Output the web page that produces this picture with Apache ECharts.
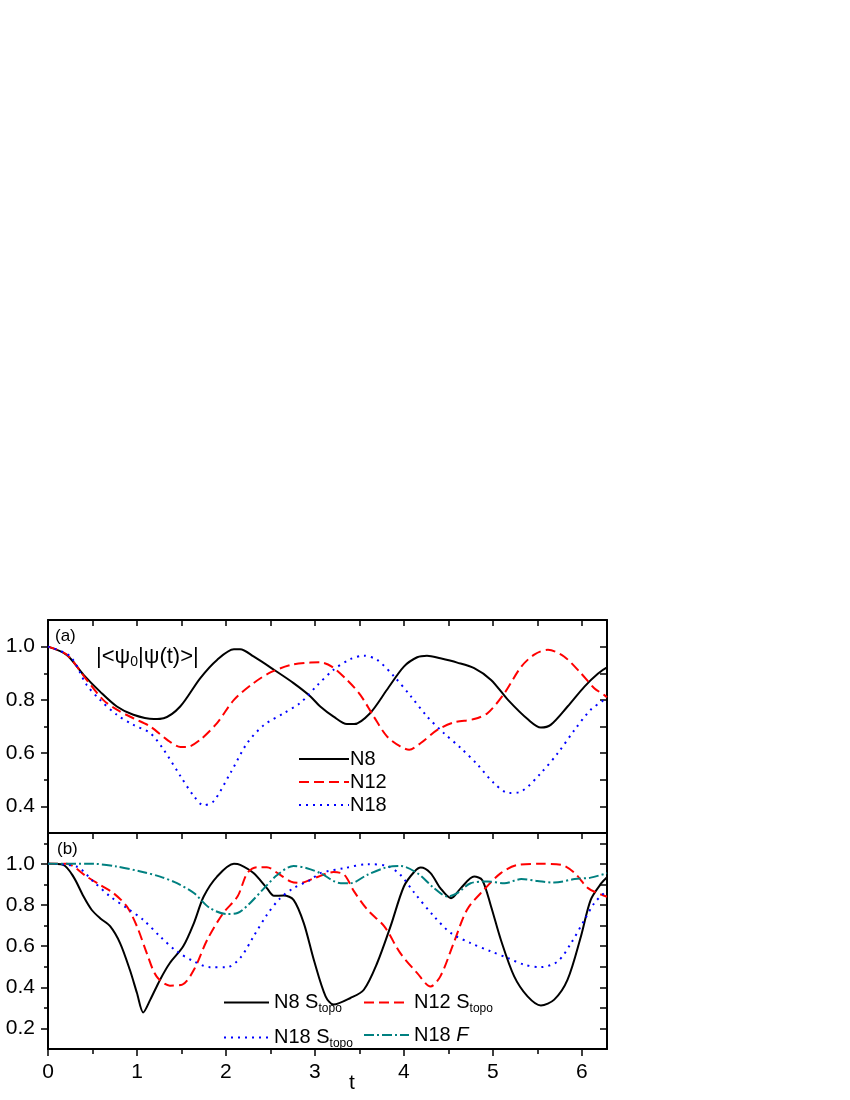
<!DOCTYPE html>
<html>
<head>
<meta charset="utf-8">
<script src="https://cdn.jsdelivr.net/npm/echarts@6/dist/echarts.min.js"></script>
<style>
  html, body { margin: 0; padding: 0; background: #fff; }
  #main { width: 850px; height: 1100px; }
</style>
</head>
<body>
<div id="main"></div>
<script>
// panel (a): |<psi0|psi(t)>|
var tN8a = [0, 0.21, 0.40, 0.585, 0.774, 0.96, 1.19, 1.30, 1.486, 1.71, 1.90, 2.09, 2.16, 2.31, 2.54, 2.76, 2.95, 3.06, 3.21, 3.36, 3.44, 3.62, 3.81, 4.0, 4.15, 4.26, 4.41, 4.60, 4.79, 4.98, 5.17, 5.40, 5.54, 5.65, 5.84, 6.03, 6.18, 6.283];
var yN8a = [1.0, 0.969, 0.894, 0.831, 0.775, 0.744, 0.728, 0.731, 0.775, 0.881, 0.95, 0.99, 0.99, 0.963, 0.913, 0.863, 0.813, 0.775, 0.737, 0.709, 0.709, 0.75, 0.838, 0.925, 0.96, 0.966, 0.956, 0.94, 0.919, 0.875, 0.80, 0.725, 0.696, 0.706, 0.775, 0.85, 0.898, 0.922];

var tN12a = [0, 0.21, 0.435, 0.62, 0.774, 0.96, 1.15, 1.34, 1.49, 1.56, 1.71, 1.90, 2.09, 2.31, 2.50, 2.73, 2.95, 3.06, 3.19, 3.36, 3.51, 3.66, 3.81, 3.96, 4.06, 4.19, 4.38, 4.56, 4.79, 4.94, 5.13, 5.32, 5.47, 5.62, 5.80, 5.99, 6.14, 6.25, 6.283];
var yN12a = [1.0, 0.97, 0.875, 0.80, 0.763, 0.731, 0.70, 0.65, 0.623, 0.623, 0.65, 0.713, 0.80, 0.863, 0.903, 0.931, 0.94, 0.941, 0.925, 0.875, 0.819, 0.738, 0.663, 0.625, 0.613, 0.638, 0.688, 0.715, 0.728, 0.75, 0.825, 0.925, 0.971, 0.988, 0.963, 0.90, 0.844, 0.819, 0.81];

var tN18a = [0, 0.25, 0.435, 0.585, 0.774, 0.96, 1.15, 1.30, 1.49, 1.64, 1.75, 1.86, 2.05, 2.24, 2.43, 2.65, 2.84, 3.03, 3.21, 3.40, 3.55, 3.70, 3.89, 4.08, 4.26, 4.45, 4.64, 4.83, 5.01, 5.18, 5.32, 5.54, 5.73, 5.92, 6.10, 6.25, 6.283];
var yN18a = [1.0, 0.963, 0.856, 0.80, 0.744, 0.706, 0.675, 0.613, 0.513, 0.438, 0.404, 0.419, 0.525, 0.638, 0.706, 0.75, 0.79, 0.856, 0.913, 0.953, 0.966, 0.95, 0.888, 0.813, 0.738, 0.675, 0.619, 0.556, 0.488, 0.45, 0.456, 0.525, 0.60, 0.688, 0.763, 0.80, 0.81];

// panel (b): S_topo and F
var tN8b = [0, 0.17, 0.285, 0.40, 0.49, 0.585, 0.70, 0.81, 0.92, 1.0, 1.07, 1.15, 1.26, 1.37, 1.52, 1.64, 1.75, 1.90, 2.09, 2.16, 2.31, 2.46, 2.54, 2.65, 2.76, 2.875, 2.99, 3.12, 3.21, 3.40, 3.55, 3.70, 3.85, 4.0, 4.12, 4.19, 4.30, 4.41, 4.53, 4.64, 4.79, 4.88, 4.98, 5.09, 5.24, 5.39, 5.54, 5.69, 5.84, 5.99, 6.10, 6.22, 6.283];
var yN8b = [1.0, 0.995, 0.938, 0.841, 0.777, 0.736, 0.696, 0.615, 0.485, 0.372, 0.278, 0.34, 0.437, 0.518, 0.599, 0.712, 0.841, 0.938, 1.0, 0.995, 0.955, 0.882, 0.845, 0.846, 0.825, 0.712, 0.53, 0.356, 0.316, 0.348, 0.388, 0.518, 0.696, 0.89, 0.963, 0.982, 0.955, 0.882, 0.833, 0.882, 0.938, 0.922, 0.793, 0.631, 0.453, 0.356, 0.312, 0.34, 0.437, 0.647, 0.825, 0.906, 0.935];

var tN12b = [0, 0.21, 0.435, 0.585, 0.735, 0.886, 1.0, 1.11, 1.22, 1.37, 1.51, 1.64, 1.79, 1.97, 2.13, 2.24, 2.35, 2.46, 2.58, 2.73, 2.84, 2.99, 3.21, 3.33, 3.44, 3.59, 3.78, 3.96, 4.15, 4.30, 4.41, 4.56, 4.71, 4.90, 5.09, 5.28, 5.54, 5.77, 5.92, 6.07, 6.22, 6.283];
var yN12b = [1.0, 1.0, 0.938, 0.898, 0.858, 0.793, 0.696, 0.566, 0.453, 0.408, 0.413, 0.485, 0.631, 0.761, 0.841, 0.955, 0.984, 0.984, 0.955, 0.914, 0.907, 0.93, 0.96, 0.947, 0.866, 0.777, 0.696, 0.566, 0.469, 0.404, 0.453, 0.615, 0.777, 0.874, 0.955, 0.995, 1.0, 0.995, 0.955, 0.882, 0.85, 0.84];

var tN18b = [0, 0.32, 0.51, 0.70, 0.886, 1.07, 1.26, 1.45, 1.64, 1.82, 2.01, 2.16, 2.31, 2.46, 2.61, 2.76, 2.95, 3.06, 3.33, 3.59, 3.81, 3.96, 4.12, 4.34, 4.53, 4.75, 4.98, 5.17, 5.35, 5.54, 5.73, 5.88, 6.03, 6.14, 6.25, 6.283];
var yN18b = [1.0, 0.987, 0.914, 0.841, 0.785, 0.728, 0.647, 0.574, 0.526, 0.498, 0.498, 0.542, 0.647, 0.752, 0.833, 0.882, 0.922, 0.955, 0.979, 0.998, 0.99, 0.947, 0.858, 0.744, 0.663, 0.615, 0.574, 0.542, 0.51, 0.498, 0.526, 0.615, 0.728, 0.809, 0.858, 0.87];

var tN18F = [0, 0.51, 0.77, 1.04, 1.26, 1.45, 1.64, 1.82, 2.01, 2.13, 2.27, 2.43, 2.58, 2.76, 2.91, 3.06, 3.29, 3.40, 3.59, 3.81, 3.96, 4.15, 4.34, 4.49, 4.60, 4.75, 4.94, 5.13, 5.32, 5.50, 5.69, 5.92, 6.10, 6.283];
var yN18F = [1.0, 1.0, 0.987, 0.963, 0.938, 0.906, 0.858, 0.785, 0.756, 0.761, 0.809, 0.882, 0.947, 0.99, 0.979, 0.955, 0.906, 0.906, 0.947, 0.984, 0.99, 0.955, 0.882, 0.841, 0.858, 0.906, 0.914, 0.906, 0.926, 0.917, 0.909, 0.926, 0.933, 0.955];

// ticks
var xTicksHalf = [0, 0.5, 1, 1.5, 2, 2.5, 3, 3.5, 4, 4.5, 5, 5.5, 6];
var xTicksMajor = [0, 1, 2, 3, 4, 5, 6];
var xTicksMinor = [0.5, 1.5, 2.5, 3.5, 4.5, 5.5];
var yTicksAMajor = [0.4, 0.6, 0.8, 1.0];
var yTicksAMinor = [0.5, 0.7, 0.9];
var yTicksARight = [0.4, 0.5, 0.6, 0.7, 0.8, 0.9, 1.0];
var yTicksBMajor = [0.2, 0.4, 0.6, 0.8, 1.0];
var yTicksBMinor = [0.3, 0.5, 0.7, 0.9, 1.1];
var yTicksBRight = [0.2, 0.3, 0.4, 0.5, 0.6, 0.7, 0.8, 0.9, 1.0, 1.1];

var FONT = '"Liberation Sans", Arial, Helvetica, sans-serif';
var TMAX = 2 * Math.PI;

function pairs(t, y) {
    return t.map(function (v, i) { return [v, y[i]]; });
}

function axis(o) {
    var a = {
        type: 'value',
        gridIndex: o.grid,
        position: o.pos,
        min: o.min,
        max: o.max,
        splitLine: { show: false },
        axisLine: { show: o.line !== false, onZero: false, lineStyle: { color: '#000', width: 2 } },
        axisTick: {
            show: !!o.ticks,
            customValues: o.ticks,
            inside: !!o.inside,
            length: o.len || 6,
            lineStyle: { color: '#000', width: 1.5 }
        },
        axisLabel: { show: false }
    };
    if (o.labels) {
        a.axisLabel = {
            show: true,
            customValues: o.labels,
            margin: o.margin,
            color: '#000',
            fontSize: 21,
            fontFamily: FONT,
            formatter: o.fmt
        };
    }
    return a;
}

var fmtY = function (v) { return v.toFixed(1); };
var fmtX = function (v) { return String(Math.round(v)); };

var xAxes = [
    axis({ grid: 0, pos: 'bottom', min: 0, max: TMAX, ticks: xTicksHalf, len: 6 }),
    axis({ grid: 0, pos: 'top', min: 0, max: TMAX, ticks: xTicksHalf, inside: true, len: 6 }),
    axis({ grid: 1, pos: 'bottom', min: 0, max: TMAX, ticks: xTicksMajor, len: 7, labels: xTicksMajor, margin: 13, fmt: fmtX }),
    axis({ grid: 1, pos: 'bottom', min: 0, max: TMAX, ticks: xTicksMinor, len: 5, line: false }),
    axis({ grid: 1, pos: 'top', min: 0, max: TMAX })
];

var yAxes = [
    axis({ grid: 0, pos: 'left', min: 0.3, max: 1.1, ticks: yTicksAMajor, len: 7, labels: yTicksAMajor, margin: 13, fmt: fmtY }),
    axis({ grid: 0, pos: 'left', min: 0.3, max: 1.1, ticks: yTicksAMinor, len: 4, line: false }),
    axis({ grid: 0, pos: 'right', min: 0.3, max: 1.1, ticks: yTicksARight, inside: true, len: 7 }),
    axis({ grid: 1, pos: 'left', min: 0.1, max: 1.15, ticks: yTicksBMajor, len: 7, labels: yTicksBMajor, margin: 13, fmt: fmtY }),
    axis({ grid: 1, pos: 'left', min: 0.1, max: 1.15, ticks: yTicksBMinor, len: 4, line: false }),
    axis({ grid: 1, pos: 'right', min: 0.1, max: 1.15, ticks: yTicksBRight, inside: true, len: 7 })
];

function line(name, data, xi, yi, color, dash) {
    return {
        name: name,
        type: 'line',
        xAxisIndex: xi,
        yAxisIndex: yi,
        data: data,
        smooth: 0.3,
        symbol: 'none',
        silent: true,
        animation: false,
        lineStyle: { color: color, width: 2, type: dash },
        itemStyle: { color: color }
    };
}

var richB = {
    n: { fontSize: 20, fontFamily: FONT, color: '#000', lineHeight: 24 },
    i: { fontSize: 20, fontFamily: FONT, color: '#000', fontStyle: 'italic', lineHeight: 24 },
    s: { fontSize: 12, fontFamily: FONT, color: '#000', lineHeight: 24, padding: [13, 0, 0, 0] }
};

function fmtB(n) {
    if (n === 'N18 F') { return '{n|N18 }{i|F}'; }
    return '{n|' + n.replace(' S_topo', ' S') + '}{s|topo}';
}

var chart = echarts.init(document.getElementById('main'));

chart.setOption({
    backgroundColor: '#fff',
    animation: false,
    textStyle: { fontFamily: FONT },
    grid: [
        { left: 48, top: 620, width: 559, height: 213 },
        { left: 48, top: 833, width: 559, height: 216 }
    ],
    xAxis: xAxes,
    yAxis: yAxes,
    legend: [
        {
            orient: 'vertical',
            left: 293,
            top: 744,
            itemWidth: 50,
            itemHeight: 14,
            itemGap: 3,
            itemStyle: { opacity: 0 },
            data: ['N8', 'N12', 'N18'],
            textStyle: { fontSize: 20, color: '#000', fontFamily: FONT, padding: [0, 0, 0, -4] }
        },
        {
            orient: 'vertical',
            left: 218,
            top: 985,
            itemWidth: 45,
            itemHeight: 14,
            itemGap: 10,
            itemStyle: { opacity: 0 },
            data: ['N8 S_topo', 'N18 S_topo'],
            formatter: fmtB,
            textStyle: { color: '#000', rich: richB }
        },
        {
            orient: 'vertical',
            left: 358,
            top: 985,
            itemWidth: 45,
            itemHeight: 14,
            itemGap: 10,
            itemStyle: { opacity: 0 },
            data: ['N12 S_topo', 'N18 F'],
            formatter: fmtB,
            textStyle: { color: '#000', rich: richB }
        }
    ],
    graphic: [
        { type: 'text', left: 55, top: 628, style: { text: '(a)', fontSize: 17, fontFamily: FONT, fill: '#000' } },
        { type: 'text', left: 57, top: 841, style: { text: '(b)', fontSize: 17, fontFamily: FONT, fill: '#000' } },
        { type: 'text', left: 349, top: 1073, style: { text: 't', fontSize: 21, fontFamily: FONT, fill: '#000' } },
        {
            type: 'text', left: 96, top: 645,
            style: {
                text: '{n||<ψ}{s|0}{n||ψ(t)>|}',
                rich: {
                    n: { fontSize: 22, fontFamily: FONT, fill: '#000', lineHeight: 24 },
                    s: { fontSize: 14, fontFamily: FONT, fill: '#000', lineHeight: 24, padding: [10, 0, 0, 0] }
                }
            }
        }
    ],
    series: [
        line('N8', pairs(tN8a, yN8a), 0, 0, '#000000', 'solid'),
        line('N12', pairs(tN12a, yN12a), 0, 0, '#ff0000', [10, 5]),
        line('N18', pairs(tN18a, yN18a), 0, 0, '#0000ff', [2, 5]),
        line('N8 S_topo', pairs(tN8b, yN8b), 2, 3, '#000000', 'solid'),
        line('N12 S_topo', pairs(tN12b, yN12b), 2, 3, '#ff0000', [10, 5]),
        line('N18 S_topo', pairs(tN18b, yN18b), 2, 3, '#0000ff', [2, 5]),
        line('N18 F', pairs(tN18F, yN18F), 2, 3, '#008080', [10, 3, 2, 3])
    ]
});
</script>
</body>
</html>
